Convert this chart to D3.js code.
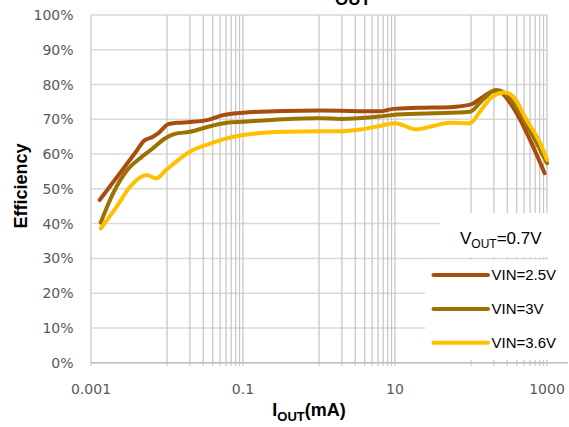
<!DOCTYPE html>
<html>
<head>
<meta charset="utf-8">
<script src="https://cdn.jsdelivr.net/npm/d3@7"></script>
<style>
  html, body { margin: 0; padding: 0; background: #fff; }
  svg { display: block; }
</style>
</head>
<body>
<svg id="chart" width="569" height="427"></svg>
<script>
// ---------- data ----------
const seriesNames = ["VIN=2.5V", "VIN=3V", "VIN=3.6V"];
const seriesColors = ["#A84C10", "#9A7200", "#FFC000"];

const iout25 = [0.0013, 0.0025, 0.0038, 0.0051, 0.0063, 0.0077, 0.0104, 0.0134, 0.02, 0.037, 0.05, 0.1, 0.34, 1, 6.3, 9.5, 20, 53, 100, 145, 206, 240, 400, 600, 930];
const eff25  = [46.8, 55.0, 60.3, 64.0, 64.8, 66.0, 68.6, 69.0, 69.2, 70.0, 71.0, 71.9, 72.4, 72.5, 72.3, 73.0, 73.3, 73.5, 74.3, 76.5, 78.2, 77.9, 71.7, 64.0, 54.5];

const iout30 = [0.00134, 0.00196, 0.00295, 0.00465, 0.0063, 0.0094, 0.0127, 0.02, 0.037, 0.061, 0.1, 0.34, 1, 1.9, 6.3, 10.6, 53, 97, 145, 212, 280, 440, 660, 1000];
const eff30  = [40.3, 48.8, 55.2, 59.2, 61.4, 64.5, 65.8, 66.4, 68.0, 69.0, 69.3, 70.0, 70.3, 70.1, 70.8, 71.4, 71.9, 72.2, 75.8, 78.4, 77.5, 71.7, 65.0, 57.4];

const iout36 = [0.00134, 0.00218, 0.00326, 0.0054, 0.0072, 0.0099, 0.02, 0.037, 0.061, 0.1, 0.34, 1, 1.9, 3.5, 6.3, 10, 19, 32, 53, 97, 131, 190, 280, 360, 540, 815, 1000];
const eff36  = [38.6, 44.9, 50.6, 54.0, 53.0, 55.6, 60.7, 63.0, 64.5, 65.5, 66.4, 66.6, 66.6, 67.1, 68.1, 68.9, 67.1, 68.1, 69.0, 68.9, 72.2, 76.5, 77.7, 76.5, 69.8, 63.1, 58.4];

const xTickValues = [0.001, 0.1, 10, 1000];
const xTickLabels = ["0.001", "0.1", "10", "1000"];
const yTickValues = [0, 10, 20, 30, 40, 50, 60, 70, 80, 90, 100];
const yTickLabels = ["0%", "10%", "20%", "30%", "40%", "50%", "60%", "70%", "80%", "90%", "100%"];
const minorDecades = [0.01, 1, 100];
const minorMultipliers = [1, 2, 3, 4, 5, 6, 7, 8, 9];

// ---------- layout ----------
const svg = d3.select("#chart");
const L = 91, R = 547, T = 15, B = 362.7;
const x = d3.scaleLog().domain([0.001, 1000]).range([L, R]);
const y = d3.scaleLinear().domain([0, 100]).range([B, T]);

const series = [
  { name: seriesNames[0], color: seriesColors[0], xs: iout25, ys: eff25 },
  { name: seriesNames[1], color: seriesColors[1], xs: iout30, ys: eff30 },
  { name: seriesNames[2], color: seriesColors[2], xs: iout36, ys: eff36 }
];

// horizontal gridlines
svg.append("g").selectAll("line").data(yTickValues).join("line")
  .attr("x1", L).attr("x2", R)
  .attr("y1", d => y(d)).attr("y2", d => y(d))
  .attr("stroke", "#D9D9D9").attr("stroke-width", 1.5);

// vertical gridlines (major + minor)
const vGrid = xTickValues.slice();
minorDecades.forEach(dec => minorMultipliers.forEach(m => vGrid.push(dec * m)));
svg.append("g").selectAll("line").data(vGrid).join("line")
  .attr("x1", d => x(d)).attr("x2", d => x(d))
  .attr("y1", T).attr("y2", B + 3)
  .attr("stroke", d => d === 0.001 ? "#D9D9D9" : "#C8C8C8")
  .attr("stroke-width", d => d === 0.001 ? 1.8 : 1.3);

// series lines
const line = d3.line().curve(d3.curveMonotoneX);
svg.append("g").selectAll("path").data(series).join("path")
  .attr("d", s => line(s.xs.map((v, i) => [x(v), y(s.ys[i])])))
  .attr("fill", "none")
  .attr("stroke", s => s.color)
  .attr("stroke-width", 4)
  .attr("stroke-linecap", "round")
  .attr("stroke-linejoin", "round");

// legend boxes
svg.append("rect").attr("x", 440).attr("y", 213).attr("width", 129).attr("height", 44.5).attr("fill", "#fff");
svg.append("rect").attr("x", 425).attr("y", 259.6).attr("width", 144).attr("height", 100.5).attr("fill", "#fff");

// x axis line
svg.append("line").attr("x1", L).attr("x2", 568).attr("y1", B).attr("y2", B)
  .attr("stroke", "#BFBFBF").attr("stroke-width", 1.5);

// legend V_OUT text
const vt = svg.append("text").attr("x", 460).attr("y", 244)
  .attr("font-family", "Liberation Sans, Arial, sans-serif").attr("font-size", 17).attr("fill", "#000");
vt.append("tspan").text("V");
vt.append("tspan").attr("font-size", 12).attr("dy", 4).text("OUT");
vt.append("tspan").attr("dy", -4).text("=0.7V");

// legend entries
const legY = [275, 309, 342.7];
const lg = svg.append("g").selectAll("g").data(series).join("g");
lg.append("line")
  .attr("x1", 433.5).attr("x2", 488).attr("y1", (d, i) => legY[i]).attr("y2", (d, i) => legY[i])
  .attr("stroke", d => d.color).attr("stroke-width", 4).attr("stroke-linecap", "round");
lg.append("text")
  .attr("x", 491.5).attr("y", (d, i) => legY[i] + 5.3)
  .attr("font-family", "Liberation Sans, Arial, sans-serif").attr("font-size", 15).attr("fill", "#000")
  .text(d => d.name);

// y tick labels
svg.append("g").selectAll("text").data(yTickValues).join("text")
  .attr("x", 73.5).attr("y", d => y(d) + 5)
  .attr("text-anchor", "end")
  .attr("font-family", "DejaVu Sans, sans-serif").attr("font-size", 14).attr("fill", "#595959")
  .text((d, i) => yTickLabels[i]);

// x tick labels
svg.append("g").selectAll("text").data(xTickValues).join("text")
  .attr("x", d => x(d)).attr("y", 394)
  .attr("text-anchor", "middle")
  .attr("font-family", "DejaVu Sans, sans-serif").attr("font-size", 14).attr("fill", "#595959")
  .text((d, i) => xTickLabels[i]);

// axis titles
svg.append("text").attr("transform", "translate(26.5,186) rotate(-90)")
  .attr("text-anchor", "middle")
  .attr("font-family", "Liberation Sans, Arial, sans-serif").attr("font-weight", "bold").attr("font-size", 18)
  .attr("fill", "#000").text("Efficiency");

const xt = svg.append("text").attr("x", 309).attr("y", 416).attr("text-anchor", "middle")
  .attr("font-family", "Liberation Sans, Arial, sans-serif").attr("font-weight", "bold").attr("font-size", 18).attr("fill", "#000");
xt.append("tspan").text("I");
xt.append("tspan").attr("font-size", 13).attr("dy", 5).text("OUT");
xt.append("tspan").attr("dy", -5).text("(mA)");

// clipped chart title (only subscript visible at top edge, as in the reference)
svg.append("text").attr("x", 353).attr("y", 5).attr("text-anchor", "middle")
  .attr("font-family", "Liberation Sans, Arial, sans-serif").attr("font-weight", "bold").attr("font-size", 17)
  .attr("fill", "#000").text("OUT");
</script>
</body>
</html>
